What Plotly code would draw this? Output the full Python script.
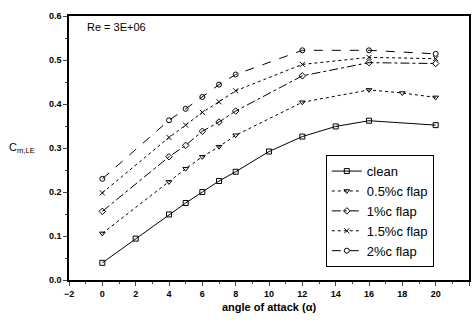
import plotly.graph_objects as go

# Angle of attack (deg) for each configuration
alpha_clean = [0, 2, 4, 5, 6, 7, 8, 10, 12, 14, 16, 20]
alpha_flap = [0, 4, 5, 6, 7, 8, 12, 16, 20]
alpha_flap05 = [0, 4, 5, 6, 7, 8, 12, 16, 18, 20]

# Leading-edge moment coefficient
cm_clean = [0.039, 0.094, 0.149, 0.175, 0.200, 0.225, 0.246, 0.292, 0.326, 0.349, 0.362, 0.352]
cm_flap05 = [0.106, 0.223, 0.253, 0.280, 0.303, 0.329, 0.404, 0.432, 0.425, 0.415]
cm_flap10 = [0.156, 0.280, 0.306, 0.338, 0.359, 0.384, 0.464, 0.494, 0.492]
cm_flap15 = [0.198, 0.324, 0.352, 0.381, 0.405, 0.430, 0.490, 0.506, 0.503]
cm_flap20 = [0.230, 0.363, 0.389, 0.416, 0.444, 0.467, 0.522, 0.522, 0.514]

series = [
    ("clean", alpha_clean, cm_clean, "solid", "square-open"),
    ("0.5%c flap", alpha_flap05, cm_flap05, "dot", "triangle-down-open"),
    ("1%c flap", alpha_flap, cm_flap10, "dashdot", "diamond-open"),
    ("1.5%c flap", alpha_flap, cm_flap15, "dot", "x-thin-open"),
    ("2%c flap", alpha_flap, cm_flap20, "dash", "circle-open"),
]

fig = go.Figure()
for name, x, y, dash, sym in series:
    fig.add_trace(go.Scatter(
        x=x, y=y, name=name, mode="lines+markers",
        line=dict(color="black", width=1, dash=dash),
        marker=dict(symbol=sym, size=5, color="black",
                    line=dict(color="black", width=1)),
    ))

axis_font = dict(family="Liberation Sans, Arial", size=9, color="black", weight="bold")
fig.update_xaxes(
    range=[-2, 22], tick0=-2, dtick=2, ticks="outside", ticklen=4,
    minor=dict(ticks="outside", ticklen=2, dtick=1),
    showline=True, linecolor="black", linewidth=1.5, mirror=True,
    showgrid=False, zeroline=False, tickfont=axis_font,
    title=dict(text="<b>angle of attack (α)</b>",
               font=dict(family="Liberation Sans, Arial", size=11, color="black"),
               standoff=6),
)
fig.update_yaxes(
    range=[0, 0.6], dtick=0.1, tickformat=".1f", ticks="outside", ticklen=4,
    minor=dict(ticks="outside", ticklen=2, dtick=0.05),
    showline=True, linecolor="black", linewidth=1.5, mirror=True,
    showgrid=False, zeroline=False, tickfont=axis_font,
)

fig.add_annotation(x=0.04, y=0.96, xref="paper", yref="paper",
                   text="Re = 3E+06", showarrow=False, xanchor="left", yanchor="middle",
                   font=dict(family="Liberation Sans, Arial", size=11, color="black"))
fig.add_annotation(x=-0.08, y=0.3, xref="paper", yref="y",
                   text="C<sub>m,LE</sub>", showarrow=False, xanchor="right", yanchor="middle",
                   font=dict(family="Liberation Sans, Arial", size=11, color="black"))

fig.update_layout(
    width=474, height=325,
    margin=dict(l=69, r=3, t=16, b=45),
    paper_bgcolor="white", plot_bgcolor="white",
    showlegend=True,
    legend=dict(x=0.642, y=0.473, xanchor="left", yanchor="top",
                bordercolor="black", borderwidth=1, bgcolor="white",
                font=dict(family="Liberation Sans, Arial", size=13, color="black"),
                tracegroupgap=0),
)

fig.write_html("out.html")
